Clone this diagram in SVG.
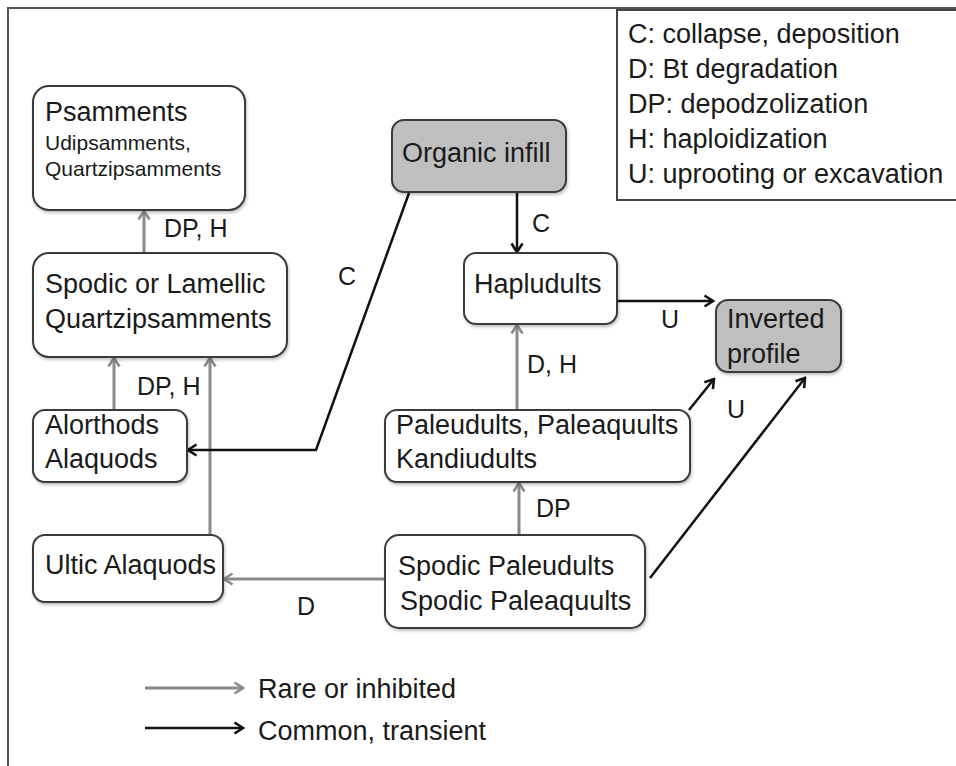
<svg xmlns="http://www.w3.org/2000/svg" width="956" height="766" viewBox="0 0 956 766">
<style>
text{font-family:"Liberation Sans",Arial,sans-serif;fill:#1a1a1a;font-size:27px}
.sm{font-size:21px}
.lb{font-size:25px}
.box{fill:#fff;stroke:#3a3a3a;stroke-width:2;filter:url(#sh)}
.gbox{fill:#bfbfbf;stroke:#3a3a3a;stroke-width:2;filter:url(#sh)}
.g{stroke:#8a8a8a;stroke-width:3;fill:none;marker-end:url(#ag)}
.k{stroke:#111;stroke-width:2.5;fill:none;marker-end:url(#ak)}
</style>
<defs>
<filter id="sh" x="-10%" y="-10%" width="130%" height="140%">
<feDropShadow dx="1" dy="2" stdDeviation="1.5" flood-color="#000" flood-opacity="0.25"/>
</filter>
<marker id="ag" viewBox="0 0 14 14" refX="12.5" refY="7" markerWidth="14" markerHeight="14" markerUnits="userSpaceOnUse" orient="auto">
<path d="M4,1.5 L12.5,7 L4,12.5" fill="none" stroke="#8a8a8a" stroke-width="2.6"/>
</marker>
<marker id="ak" viewBox="0 0 14 14" refX="12.5" refY="7" markerWidth="14" markerHeight="14" markerUnits="userSpaceOnUse" orient="auto">
<path d="M4,1.5 L12.5,7 L4,12.5" fill="none" stroke="#111" stroke-width="2.6"/>
</marker>
</defs>
<rect width="956" height="766" fill="#fff"/>
<path d="M8,766 L8,8 L956,8" fill="none" stroke="#555" stroke-width="2"/>

<g id="key">
<rect x="617" y="10" width="345" height="190" fill="#fff" stroke="#444" stroke-width="2"/>
<text x="628" y="43">C: collapse, deposition</text>
<text x="628" y="78">D: Bt degradation</text>
<text x="628" y="113">DP: depodzolization</text>
<text x="628" y="148">H: haploidization</text>
<text x="628" y="183">U: uprooting or excavation</text>
</g>

<g id="connectors">
<line class="g" x1="144" y1="253" x2="144" y2="211"/>
<line class="g" x1="114" y1="410" x2="114" y2="358"/>
<line class="g" x1="210" y1="535" x2="210" y2="358"/>
<line class="g" x1="385" y1="579" x2="224" y2="579"/>
<line class="g" x1="519" y1="535" x2="519" y2="483"/>
<line class="g" x1="517" y1="410" x2="517" y2="325"/>
<line class="k" x1="517" y1="192" x2="517" y2="252"/>
<polyline class="k" points="409,193 316,450 188,450"/>
<line class="k" x1="617" y1="301" x2="713" y2="301"/>
<line class="k" x1="689" y1="410" x2="714" y2="379"/>
<line class="k" x1="650" y1="578" x2="805" y2="378"/>
<text class="lb" x="164" y="237">DP, H</text>
<text class="lb" x="137" y="395">DP, H</text>
<text class="lb" x="338" y="285">C</text>
<text class="lb" x="532" y="232">C</text>
<text class="lb" x="661" y="328">U</text>
<text class="lb" x="527" y="373">D, H</text>
<text class="lb" x="727" y="418">U</text>
<text class="lb" x="536" y="517">DP</text>
<text class="lb" x="297" y="615">D</text>
</g>

<g id="psamments">
<rect class="box" x="33" y="86" width="212" height="124" rx="16"/>
<text x="45" y="121">Psamments</text>
<text class="sm" x="45" y="150">Udipsamments,</text>
<text class="sm" x="45" y="176">Quartzipsamments</text>
</g>
<g id="organic-infill">
<rect class="gbox" x="392" y="120" width="174" height="72" rx="12"/>
<text x="402" y="162">Organic infill</text>
</g>
<g id="spodic-lamellic">
<rect class="box" x="33" y="253" width="254" height="104" rx="16"/>
<text x="45" y="293">Spodic or Lamellic</text>
<text x="45" y="328">Quartzipsamments</text>
</g>
<g id="hapludults">
<rect class="box" x="464" y="253" width="153" height="71" rx="12"/>
<text x="474" y="293">Hapludults</text>
</g>
<g id="inverted-profile">
<rect class="gbox" x="716" y="300" width="125" height="72" rx="12"/>
<text x="727" y="328">Inverted</text>
<text x="727" y="363">profile</text>
</g>
<g id="alorthods">
<rect class="box" x="33" y="410" width="154" height="72" rx="12"/>
<text x="45" y="434">Alorthods</text>
<text x="45" y="468">Alaquods</text>
</g>
<g id="paleudults">
<rect class="box" x="385" y="410" width="305" height="72" rx="12"/>
<text x="396" y="434">Paleudults, Paleaquults</text>
<text x="396" y="468">Kandiudults</text>
</g>
<g id="ultic-alaquods">
<rect class="box" x="33" y="535" width="190" height="67" rx="12"/>
<text x="45" y="574">Ultic Alaquods</text>
</g>
<g id="spodic-paleudults">
<rect class="box" x="385" y="535" width="260" height="93" rx="14"/>
<text x="398" y="575">Spodic Paleudults</text>
<text x="400" y="610">Spodic Paleaquults</text>
</g>

<g id="legend">
<line class="g" x1="145" y1="688" x2="243" y2="688"/>
<line class="k" x1="145" y1="728" x2="243" y2="728"/>
<text x="258" y="698">Rare or inhibited</text>
<text x="258" y="740">Common, transient</text>
</g>
</svg>
